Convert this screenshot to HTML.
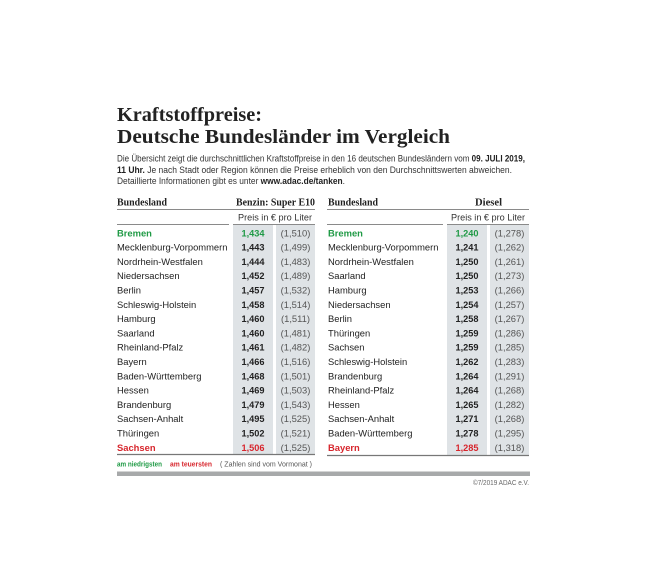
<!DOCTYPE html>
<html><head><meta charset="utf-8"><style>
html,body{margin:0;padding:0;background:#fff;}
svg{display:block;}
.s{font-family:"Liberation Sans",sans-serif;}
.h{font-family:"Liberation Serif",serif;font-weight:bold;}
</style></head><body>
<svg width="650" height="583" viewBox="0 0 650 583" xmlns="http://www.w3.org/2000/svg">
<rect width="650" height="583" fill="#fff"/>
<!-- Title -->
<text class="h" x="117" y="121" font-size="20.5" fill="#222" textLength="145" lengthAdjust="spacingAndGlyphs">Kraftstoffpreise:</text>
<text class="h" x="117" y="143" font-size="20.5" fill="#222" textLength="333" lengthAdjust="spacingAndGlyphs">Deutsche Bundesländer im Vergleich</text>
<!-- Description -->
<g class="s" font-size="9" fill="#333">
<text x="117" y="161.5" textLength="408" lengthAdjust="spacingAndGlyphs">Die Übersicht zeigt die durchschnittlichen Kraftstoffpreise in den 16 deutschen Bundesländern vom <tspan font-weight="bold" fill="#222">09. JULI 2019,</tspan></text>
<text x="117" y="173" textLength="395" lengthAdjust="spacingAndGlyphs"><tspan font-weight="bold" fill="#222">11 Uhr.</tspan> Je nach Stadt oder Region können die Preise erheblich von den Durchschnittswerten abweichen.</text>
<text x="117" y="184" textLength="228" lengthAdjust="spacingAndGlyphs">Detaillierte Informationen gibt es unter <tspan font-weight="bold" fill="#222">www.adac.de/tanken</tspan>.</text>
</g>
<!-- Shaded columns -->
<rect x="233" y="225" width="40" height="229" fill="#dfe3e6"/>
<rect x="276" y="225" width="39" height="229" fill="#dfe3e6"/>
<rect x="447" y="225" width="40" height="230" fill="#dfe3e6"/>
<rect x="490" y="225" width="39" height="230" fill="#dfe3e6"/>
<!-- Lines -->
<g stroke="#8a8a8a" stroke-width="1">
<line x1="117" y1="209.5" x2="315" y2="209.5"/>
<line x1="117" y1="224.5" x2="229" y2="224.5"/>
<line x1="233" y1="224.5" x2="315" y2="224.5"/>
<line x1="327" y1="209.5" x2="529" y2="209.5"/>
<line x1="327" y1="224.5" x2="443" y2="224.5"/>
<line x1="447" y1="224.5" x2="529" y2="224.5"/>
</g>
<g stroke="#777" stroke-width="1.2">
<line x1="117" y1="454.5" x2="315" y2="454.5"/>
<line x1="327" y1="455.5" x2="529" y2="455.5"/>
</g>
<!-- Headers -->
<g class="h" font-size="10" fill="#222">
<text x="117" y="205.5" textLength="50" lengthAdjust="spacingAndGlyphs">Bundesland</text>
<text x="236" y="205.5" textLength="79" lengthAdjust="spacingAndGlyphs">Benzin:  Super E10</text>
<text x="328" y="205.5" textLength="50" lengthAdjust="spacingAndGlyphs">Bundesland</text>
<text x="475" y="205.5" textLength="27" lengthAdjust="spacingAndGlyphs">Diesel</text>
</g>
<g class="s" font-size="9.3" fill="#333">
<text x="238" y="220.3" textLength="74" lengthAdjust="spacingAndGlyphs">Preis in € pro Liter</text>
<text x="451" y="220.3" textLength="74" lengthAdjust="spacingAndGlyphs">Preis in € pro Liter</text>
</g>
<!-- Left table rows -->
<g class="s" font-size="9.4" fill="#222">
<text x="117" y="236.3" font-weight="bold" fill="#1f9a45">Bremen</text>
<text x="117" y="250.6">Mecklenburg-Vorpommern</text>
<text x="117" y="264.9">Nordrhein-Westfalen</text>
<text x="117" y="279.2">Niedersachsen</text>
<text x="117" y="293.5">Berlin</text>
<text x="117" y="307.8">Schleswig-Holstein</text>
<text x="117" y="322.1">Hamburg</text>
<text x="117" y="336.4">Saarland</text>
<text x="117" y="350.7">Rheinland-Pfalz</text>
<text x="117" y="365.0">Bayern</text>
<text x="117" y="379.3">Baden-Württemberg</text>
<text x="117" y="393.6">Hessen</text>
<text x="117" y="407.9">Brandenburg</text>
<text x="117" y="422.2">Sachsen-Anhalt</text>
<text x="117" y="436.5">Thüringen</text>
<text x="117" y="450.8" font-weight="bold" fill="#d7262d">Sachsen</text>
</g>
<g class="s" font-size="9.2" font-weight="bold" fill="#222" text-anchor="middle">
<text x="253" y="236.3" fill="#1f9a45">1,434</text>
<text x="253" y="250.6">1,443</text>
<text x="253" y="264.9">1,444</text>
<text x="253" y="279.2">1,452</text>
<text x="253" y="293.5">1,457</text>
<text x="253" y="307.8">1,458</text>
<text x="253" y="322.1">1,460</text>
<text x="253" y="336.4">1,460</text>
<text x="253" y="350.7">1,461</text>
<text x="253" y="365.0">1,466</text>
<text x="253" y="379.3">1,468</text>
<text x="253" y="393.6">1,469</text>
<text x="253" y="407.9">1,479</text>
<text x="253" y="422.2">1,495</text>
<text x="253" y="436.5">1,502</text>
<text x="253" y="450.8" fill="#d7262d">1,506</text>
</g>
<g class="s" font-size="9.4" fill="#555" text-anchor="middle">
<text x="295.5" y="236.3">(1,510)</text>
<text x="295.5" y="250.6">(1,499)</text>
<text x="295.5" y="264.9">(1,483)</text>
<text x="295.5" y="279.2">(1,489)</text>
<text x="295.5" y="293.5">(1,532)</text>
<text x="295.5" y="307.8">(1,514)</text>
<text x="295.5" y="322.1">(1,511)</text>
<text x="295.5" y="336.4">(1,481)</text>
<text x="295.5" y="350.7">(1,482)</text>
<text x="295.5" y="365.0">(1,516)</text>
<text x="295.5" y="379.3">(1,501)</text>
<text x="295.5" y="393.6">(1,503)</text>
<text x="295.5" y="407.9">(1,543)</text>
<text x="295.5" y="422.2">(1,525)</text>
<text x="295.5" y="436.5">(1,521)</text>
<text x="295.5" y="450.8">(1,525)</text>
</g>
<!-- Right table rows -->
<g class="s" font-size="9.4" fill="#222">
<text x="328" y="236.3" font-weight="bold" fill="#1f9a45">Bremen</text>
<text x="328" y="250.6">Mecklenburg-Vorpommern</text>
<text x="328" y="264.9">Nordrhein-Westfalen</text>
<text x="328" y="279.2">Saarland</text>
<text x="328" y="293.5">Hamburg</text>
<text x="328" y="307.8">Niedersachsen</text>
<text x="328" y="322.1">Berlin</text>
<text x="328" y="336.4">Thüringen</text>
<text x="328" y="350.7">Sachsen</text>
<text x="328" y="365.0">Schleswig-Holstein</text>
<text x="328" y="379.3">Brandenburg</text>
<text x="328" y="393.6">Rheinland-Pfalz</text>
<text x="328" y="407.9">Hessen</text>
<text x="328" y="422.2">Sachsen-Anhalt</text>
<text x="328" y="436.5">Baden-Württemberg</text>
<text x="328" y="450.8" font-weight="bold" fill="#d7262d">Bayern</text>
</g>
<g class="s" font-size="9.2" font-weight="bold" fill="#222" text-anchor="middle">
<text x="467" y="236.3" fill="#1f9a45">1,240</text>
<text x="467" y="250.6">1,241</text>
<text x="467" y="264.9">1,250</text>
<text x="467" y="279.2">1,250</text>
<text x="467" y="293.5">1,253</text>
<text x="467" y="307.8">1,254</text>
<text x="467" y="322.1">1,258</text>
<text x="467" y="336.4">1,259</text>
<text x="467" y="350.7">1,259</text>
<text x="467" y="365.0">1,262</text>
<text x="467" y="379.3">1,264</text>
<text x="467" y="393.6">1,264</text>
<text x="467" y="407.9">1,265</text>
<text x="467" y="422.2">1,271</text>
<text x="467" y="436.5">1,278</text>
<text x="467" y="450.8" fill="#d7262d">1,285</text>
</g>
<g class="s" font-size="9.4" fill="#555" text-anchor="middle">
<text x="509.5" y="236.3">(1,278)</text>
<text x="509.5" y="250.6">(1,262)</text>
<text x="509.5" y="264.9">(1,261)</text>
<text x="509.5" y="279.2">(1,273)</text>
<text x="509.5" y="293.5">(1,266)</text>
<text x="509.5" y="307.8">(1,257)</text>
<text x="509.5" y="322.1">(1,267)</text>
<text x="509.5" y="336.4">(1,286)</text>
<text x="509.5" y="350.7">(1,285)</text>
<text x="509.5" y="365.0">(1,283)</text>
<text x="509.5" y="379.3">(1,291)</text>
<text x="509.5" y="393.6">(1,268)</text>
<text x="509.5" y="407.9">(1,282)</text>
<text x="509.5" y="422.2">(1,268)</text>
<text x="509.5" y="436.5">(1,295)</text>
<text x="509.5" y="450.8">(1,318)</text>
</g>
<!-- Legend -->
<g class="s" font-size="7">
<text x="117" y="466.5" font-weight="bold" fill="#1f9a45" textLength="45" lengthAdjust="spacingAndGlyphs">am niedrigsten</text>
<text x="170" y="466.5" font-weight="bold" fill="#d7262d" textLength="42" lengthAdjust="spacingAndGlyphs">am teuersten</text>
<text x="220" y="466.5" fill="#555" textLength="92" lengthAdjust="spacingAndGlyphs">( Zahlen sind vom Vormonat )</text>
</g>
<rect x="117" y="471.5" width="413" height="4.5" fill="#a7a9aa"/>
<text class="s" x="473" y="485" font-size="7" fill="#666" textLength="56" lengthAdjust="spacingAndGlyphs">©7/2019 ADAC e.V.</text>
</svg>
</body></html>
